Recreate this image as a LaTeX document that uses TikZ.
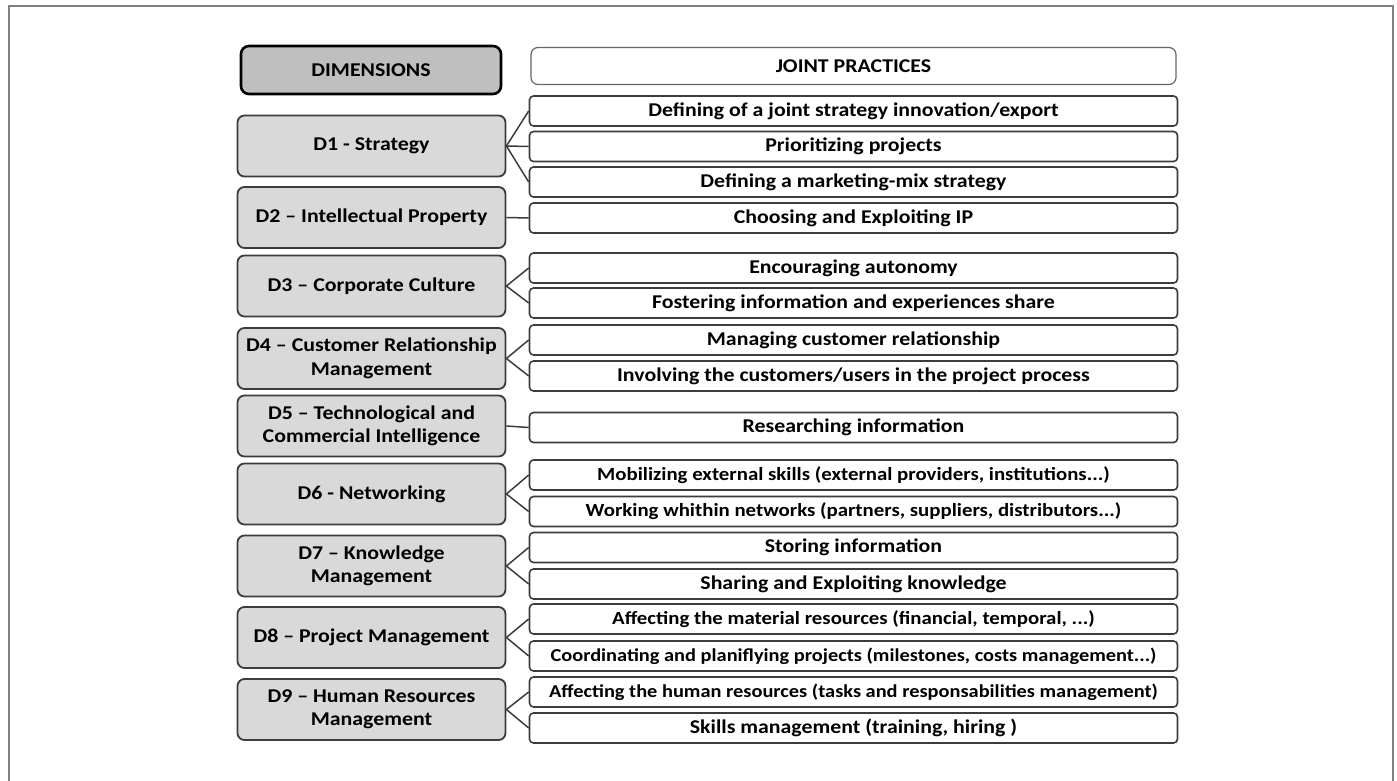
\documentclass[tikz,border=0pt]{standalone}
\usepackage{fontspec}
\setmainfont[FakeStretch=1.12]{Carlito}
\usepackage{xcolor}
\usepackage{tikz}
\definecolor{headgray}{RGB}{191,191,191}
\definecolor{dimgray}{RGB}{217,217,217}
\definecolor{edgegray}{RGB}{60,60,60}

\begin{document}
\begin{tikzpicture}[x=1pt, y=-1pt,
    head/.style={draw=black, line width=2.6pt, rounded corners=8pt, fill=headgray, minimum width=260pt, minimum height=48pt, font=\fontsize{19.5}{23}\selectfont\bfseries},
    dim/.style={draw=edgegray, line width=1.8pt, rounded corners=7pt, fill=dimgray, minimum width=268pt, minimum height=61pt, align=center, font=\fontsize{19.5}{23.5}\selectfont\bfseries},
    practice/.style={draw=edgegray, line width=1.6pt, rounded corners=4pt, fill=white, minimum width=648pt, minimum height=30pt, align=center, font=\fontsize{19.5}{22}\selectfont\bfseries},
    tight/.style={font=\fontsize{18.6}{22}\selectfont\bfseries},
    tighter/.style={font=\fontsize{18.2}{22}\selectfont\bfseries},
    link/.style={draw=edgegray, line width=1.5pt}
]
\useasboundingbox (0,0) rectangle (1397,781);
\draw[gray, line width=1.2pt] (9,781) -- (9,6) -- (1393,6) -- (1393,781);

\node[head] (dimensions) at (371,70) {DIMENSIONS};
\node[practice, draw=gray!80!black, line width=1.2pt, rounded corners=7pt, minimum width=645pt, minimum height=37pt] (joint) at (853.5,66) {JOINT PRACTICES};

\node[dim] (d1) at (371.5,146) {D1 - Strategy};
\node[dim] (d2) at (371.5,217.5) {D2 -- Intellectual Property};
\node[dim] (d3) at (371.5,286) {D3 -- Corporate Culture};
\node[dim] (d4) at (371.5,358.5) {D4 -- Customer Relationship\\Management};
\node[dim] (d5) at (371.5,426) {D5 -- Technological and\\Commercial Intelligence};
\node[dim] (d6) at (371.5,494) {D6 - Networking};
\node[dim] (d7) at (371.5,566) {D7 -- Knowledge\\Management};
\node[dim] (d8) at (371.5,637.5) {D8 -- Project Management};
\node[dim] (d9) at (371.5,709.5) {D9 -- Human Resources\\Management};

\node[practice] (p1) at (853.5,111) {Defining of a joint strategy innovation/export};
\node[practice] (p2) at (853.5,146.5) {Prioritizing projects};
\node[practice] (p3) at (853.5,182) {Defining a marketing-mix strategy};
\node[practice] (p4) at (853.5,218) {Choosing and Exploiting IP};
\node[practice] (p5) at (853.5,268) {Encouraging autonomy};
\node[practice] (p6) at (853.5,303) {Fostering information and experiences share};
\node[practice] (p7) at (853.5,340) {Managing customer relationship};
\node[practice] (p8) at (853.5,376) {Involving the customers/users in the project process};
\node[practice] (p9) at (853.5,427.5) {Researching information};
\node[practice, tight] (p10) at (853.5,475) {Mobilizing external skills (external providers, institutions...)};
\node[practice, tight] (p11) at (853.5,511.5) {Working whithin networks (partners, suppliers, distributors...)};
\node[practice] (p12) at (853.5,547.5) {Storing information};
\node[practice] (p13) at (853.5,584) {Sharing and Exploiting knowledge};
\node[practice, tight] (p14) at (853.5,619) {Affecting the material resources (financial, temporal, ...)};
\node[practice, tighter] (p15) at (853.5,656) {Coordinating and planiflying projects (milestones, costs management...)};
\node[practice, tighter] (p16) at (853.5,692) {Affecting the human resources (tasks and responsabilities management)};
\node[practice] (p17) at (853.5,728) {Skills management (training, hiring )};

\draw[link] (d1.east) -- (p1.west);
\draw[link] (d1.east) -- (p2.west);
\draw[link] (d1.east) -- (p3.west);
\draw[link] (d2.east) -- (p4.west);
\draw[link] (d3.east) -- (p5.west);
\draw[link] (d3.east) -- (p6.west);
\draw[link] (d4.east) -- (p7.west);
\draw[link] (d4.east) -- (p8.west);
\draw[link] (d5.east) -- (p9.west);
\draw[link] (d6.east) -- (p10.west);
\draw[link] (d6.east) -- (p11.west);
\draw[link] (d7.east) -- (p12.west);
\draw[link] (d7.east) -- (p13.west);
\draw[link] (d8.east) -- (p14.west);
\draw[link] (d8.east) -- (p15.west);
\draw[link] (d9.east) -- (p16.west);
\draw[link] (d9.east) -- (p17.west);

\end{tikzpicture}
\end{document}
